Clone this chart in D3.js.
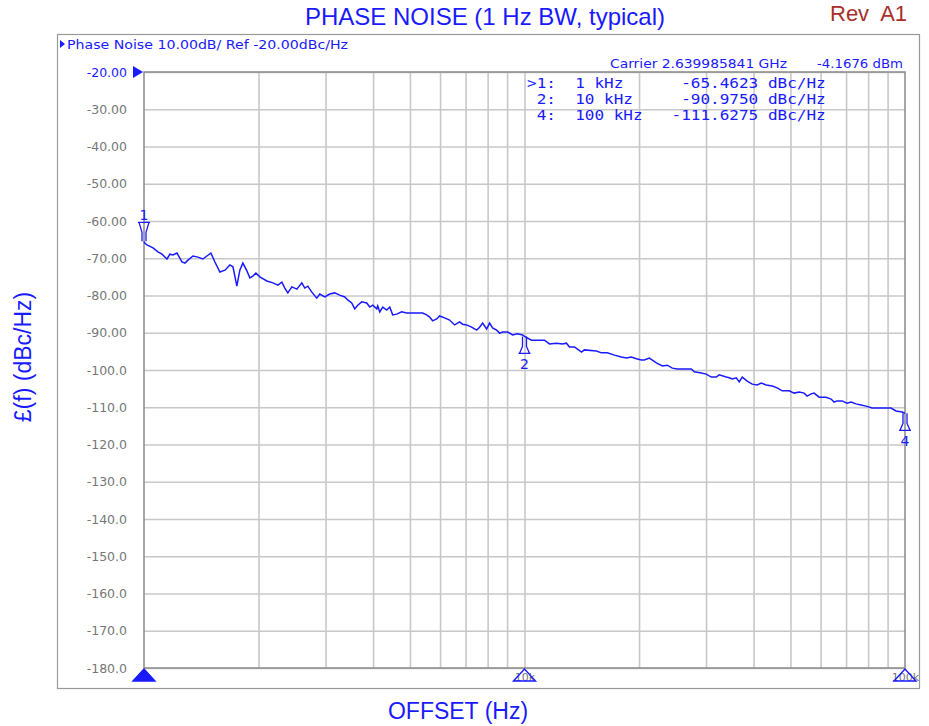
<!DOCTYPE html>
<html>
<head>
<meta charset="utf-8">
<script src="https://cdn.jsdelivr.net/npm/d3@7"></script>
<style>
body { margin: 0; background: #fff; }
svg text { white-space: pre; }
</style>
</head>
<body>
<div id="chart"></div>
<script>
// trace (offset in kHz, dBc/Hz)
const offsetKHz = [
  1.000, 1.006, 1.018, 1.056, 1.088, 1.115, 1.149, 1.170, 1.191, 1.221,
  1.258, 1.281, 1.305, 1.345, 1.386, 1.428, 1.463, 1.499, 1.536, 1.583,
  1.632, 1.682, 1.713, 1.754, 1.786, 1.819, 1.864, 1.898, 1.932, 1.968,
  2.016, 2.103, 2.181, 2.248, 2.303, 2.345, 2.388, 2.447, 2.522, 2.599,
  2.646, 2.695, 2.761, 2.845, 2.897, 2.986, 3.077, 3.172, 3.268, 3.370,
  3.431, 3.515, 3.579, 3.645, 3.735, 3.849, 3.920, 3.992, 4.090, 4.114,
  4.165, 4.241, 4.344, 4.424, 4.504, 4.614, 4.756, 4.902, 5.052, 5.239,
  5.400, 5.532, 5.633, 5.736, 5.876, 5.983, 6.166, 6.356, 6.551, 6.752,
  6.876, 7.045, 7.261, 7.484, 7.621, 7.761, 7.951, 8.097, 8.245, 8.447,
  8.601, 8.759, 9.028, 9.302, 9.586, 9.880, 10.00, 10.43, 11.29, 11.63,
  12.13, 12.58, 12.89, 13.13, 13.53, 13.78, 14.12, 14.37, 15.45, 15.93,
  16.51, 17.23, 17.97, 18.53, 19.09, 19.68, 20.28, 20.65, 21.29, 22.21,
  23.03, 23.73, 24.46, 25.21, 27.44, 27.94, 29.15, 30.04, 30.96, 31.91,
  32.49, 33.90, 34.52, 35.16, 36.02, 36.67, 37.34, 38.49, 39.67, 40.89,
  41.89, 43.18, 44.77, 46.14, 47.55, 49.61, 51.13, 52.71, 54.32, 55.32,
  56.67, 57.70, 59.47, 62.04, 63.94, 65.11, 66.31, 68.35, 70.45, 72.17,
  74.35, 76.64, 79.00, 81.92, 85.45, 91.89, 94.71, 98.20, 100.0
];
const noiseDbc = [
  -65.5, -66.0, -66.4, -67.2, -68.3, -68.9, -70.2, -68.9, -69.1, -68.6,
  -71.0, -71.3, -70.5, -69.4, -69.7, -70.2, -69.4, -68.6, -71.0, -73.7,
  -73.2, -71.8, -72.3, -77.5, -73.2, -71.3, -73.4, -75.3, -74.8, -74.0,
  -75.0, -76.1, -76.6, -77.2, -76.4, -78.0, -79.3, -77.7, -78.3, -76.6,
  -78.0, -77.5, -79.1, -80.7, -79.6, -80.4, -79.6, -79.3, -79.9, -80.4,
  -81.2, -82.0, -83.6, -82.6, -81.7, -82.0, -83.1, -82.6, -83.6, -82.8,
  -84.4, -83.1, -83.9, -83.1, -85.2, -85.0, -84.4, -84.7, -84.7, -84.7,
  -84.7, -85.2, -85.8, -86.8, -86.3, -85.5, -86.0, -86.6, -87.9, -87.1,
  -87.7, -87.9, -88.5, -89.3, -88.5, -87.4, -89.0, -87.4, -88.7, -89.3,
  -90.1, -89.8, -89.8, -90.6, -90.3, -90.6, -91.0, -92.0, -92.0, -93.0,
  -92.8, -93.0, -92.8, -93.8, -93.8, -94.4, -95.2, -94.6, -94.9, -95.4,
  -95.4, -96.0, -96.5, -96.8, -96.5, -97.0, -97.3, -97.3, -96.8, -98.1,
  -98.9, -98.7, -99.5, -99.7, -99.7, -100.5, -100.8, -101.1, -101.9, -101.9,
  -101.3, -101.9, -102.1, -102.4, -102.1, -103.2, -101.9, -103.0, -103.8, -104.0,
  -103.5, -104.0, -104.3, -104.8, -105.6, -105.6, -106.2, -105.9, -106.2, -107.0,
  -106.4, -106.2, -107.3, -107.3, -107.8, -108.6, -108.3, -108.3, -108.9, -108.6,
  -109.1, -109.4, -109.7, -110.2, -110.2, -110.2, -111.0, -111.3, -111.6
];

const yTicks = [-20, -30, -40, -50, -60, -70, -80, -90, -100, -110, -120, -130, -140, -150, -160, -170, -180];
const yTickLabels = ["-20.00", "-30.00", "-40.00", "-50.00", "-60.00", "-70.00", "-80.00", "-90.00",
  "-100.0", "-110.0", "-120.0", "-130.0", "-140.0", "-150.0", "-160.0", "-170.0", "-180.0"];
const xTicks = [1, 10, 100];
const xTickLabels = ["1k", "10k", "100k"];
const xGrid = [2, 3, 4, 5, 6, 7, 8, 9, 10, 20, 30, 40, 50, 60, 70, 80, 90];

// markers
const markerIds = ["1", "2", "4"];
const markerKHz = [1, 10, 100];
const markerDbc = [-65.4623, -90.9750, -111.6275];
const markerRowTags = [">1:", " 2:", " 4:"];
const markerFreqLabels = ["1 kHz", "10 kHz", "100 kHz"];
const markerValueLabels = ["-65.4623", "-90.9750", "-111.6275"];

const blue = "#1a1aff";
const gray = "#777";

const W = 929, H = 726;
const plot = { left: 144, right: 905, top: 72, bottom: 668 };

const svg = d3.select("#chart").append("svg")
    .attr("width", W)
    .attr("height", H);

const x = d3.scaleLog().domain([1, 100]).range([plot.left, plot.right]);
const y = d3.scaleLinear().domain([-180, -20]).range([plot.bottom, plot.top]);

// outer frame of the analyzer window
svg.append("rect")
    .attr("x", 57.5).attr("y", 34.5)
    .attr("width", 862).attr("height", 654)
    .attr("fill", "none")
    .attr("stroke", "#999")
    .attr("stroke-width", 1.2);

// grid
svg.append("g")
    .attr("transform", `translate(0,${plot.bottom})`)
    .call(d3.axisBottom(x).tickValues(xGrid).tickSize(-(plot.bottom - plot.top)).tickFormat(""))
    .call(g => g.select(".domain").remove())
    .call(g => g.selectAll("line").attr("stroke", "#c8c8c8").attr("stroke-width", 1.6));

svg.append("g")
    .attr("transform", `translate(${plot.left},0)`)
    .call(d3.axisLeft(y).tickValues(yTicks).tickSize(-(plot.right - plot.left)).tickFormat(""))
    .call(g => g.select(".domain").remove())
    .call(g => g.selectAll("line").attr("stroke", "#c8c8c8").attr("stroke-width", 1.6));

// plot border
svg.append("rect")
    .attr("x", plot.left).attr("y", plot.top)
    .attr("width", plot.right - plot.left).attr("height", plot.bottom - plot.top)
    .attr("fill", "none")
    .attr("stroke", "#8a8a8a")
    .attr("stroke-width", 1.5);

// y tick labels
svg.append("g")
    .attr("transform", `translate(${plot.left},0)`)
    .call(d3.axisLeft(y).tickValues(yTicks).tickSize(0).tickPadding(17)
        .tickFormat(d => yTickLabels[yTicks.indexOf(d)]))
    .call(g => g.select(".domain").remove())
    .attr("font-family", "DejaVu Sans")
    .attr("font-size", 12.5)
    .call(g => g.selectAll("text").attr("fill", d => d === -20 ? blue : gray));

// reference level arrow
svg.append("path")
    .attr("d", `M${plot.left - 11},${y(-20) - 6}L${plot.left - 1},${y(-20)}L${plot.left - 11},${y(-20) + 6}Z`)
    .attr("fill", blue);

// x tick labels
svg.append("g")
    .attr("transform", `translate(0,${plot.bottom})`)
    .call(d3.axisBottom(x).tickValues(xTicks).tickSize(0).tickPadding(5)
        .tickFormat(d => xTickLabels[xTicks.indexOf(d)]))
    .call(g => g.select(".domain").remove())
    .attr("font-family", "DejaVu Sans")
    .attr("font-size", 11)
    .call(g => g.selectAll("text").attr("fill", gray));

// marker flags on the x axis
svg.selectAll(".xflag")
    .data(markerKHz)
    .enter()
    .append("path")
    .attr("class", "xflag")
    .attr("d", d => `M${x(d) - 11},681L${x(d)},669L${x(d) + 11},681Z`)
    .attr("fill", (d, i) => i === 0 ? blue : "none")
    .attr("stroke", blue)
    .attr("stroke-width", 1.4);

// trace
const line = d3.line()
    .x(d => x(d[0]))
    .y(d => y(d[1]));

svg.append("path")
    .datum(d3.zip(offsetKHz, noiseDbc))
    .attr("d", line)
    .attr("fill", "none")
    .attr("stroke", blue)
    .attr("stroke-width", 1.5);

// marker symbols on the trace
const marks = svg.selectAll(".mark")
    .data(markerIds)
    .enter()
    .append("g")
    .attr("class", "mark")
    .attr("transform", (d, i) => `translate(${x(markerKHz[i])},${y(markerDbc[i])})`);

marks.append("path")
    .attr("d", (d, i) => i === 0
        ? "M-2,0V-9L-5,-19H5L2,-9V0M-6,-19H6"
        : "M-2,0V10L-5,17H5L2,10V0M-6,17H6")
    .attr("fill", "none")
    .attr("stroke", blue)
    .attr("stroke-width", 1.3);

marks.append("text")
    .attr("y", (d, i) => i === 0 ? -21 : 33)
    .attr("text-anchor", "middle")
    .attr("font-family", "DejaVu Sans")
    .attr("font-size", 14)
    .attr("fill", blue)
    .text(d => d);

// header texts of the analyzer screen
svg.append("path").attr("d", "M60,40L65,44L60,48Z").attr("fill", blue);
svg.append("text")
    .attr("x", 67).attr("y", 49)
    .attr("font-family", "DejaVu Sans").attr("font-size", 12)
    .attr("textLength", 281).attr("lengthAdjust", "spacingAndGlyphs")
    .attr("fill", blue)
    .text("Phase Noise 10.00dB/ Ref -20.00dBc/Hz");

svg.append("text")
    .attr("x", 610).attr("y", 68)
    .attr("font-family", "DejaVu Sans").attr("font-size", 12)
    .attr("textLength", 177).attr("lengthAdjust", "spacingAndGlyphs")
    .attr("fill", blue)
    .text("Carrier 2.639985841 GHz");
svg.append("text")
    .attr("x", 817).attr("y", 68)
    .attr("font-family", "DejaVu Sans").attr("font-size", 12)
    .attr("textLength", 86).attr("lengthAdjust", "spacingAndGlyphs")
    .attr("fill", blue)
    .text("-4.1676 dBm");

// marker table, fixed columns
const rowText = markerIds.map((d, i) =>
    markerRowTags[i] + "  " +
    markerFreqLabels[i].padEnd(19 - markerValueLabels[i].length) +
    markerValueLabels[i] + " dBc/Hz");

svg.selectAll(".row")
    .data(rowText)
    .enter()
    .append("text")
    .attr("class", "row")
    .attr("x", 527)
    .attr("y", (d, i) => 88 + i * 16)
    .attr("font-family", "DejaVu Sans Mono")
    .attr("font-size", 13.5)
    .attr("textLength", d => d.length * 9.7 - 2)
    .attr("lengthAdjust", "spacingAndGlyphs")
    .attr("fill", blue)
    .text(d => d);

// titles
svg.append("text")
    .attr("x", 485).attr("y", 25)
    .attr("text-anchor", "middle")
    .attr("font-family", "Liberation Sans").attr("font-size", 24)
    .attr("fill", blue)
    .text("PHASE NOISE (1 Hz BW, typical)");

svg.append("text")
    .attr("x", 830).attr("y", 21)
    .attr("font-family", "Liberation Sans").attr("font-size", 22)
    .attr("fill", "#a8302a")
    .text("Rev  A1");

svg.append("text")
    .attr("x", 458).attr("y", 719)
    .attr("text-anchor", "middle")
    .attr("font-family", "Liberation Sans").attr("font-size", 23)
    .attr("fill", blue)
    .text("OFFSET (Hz)");

svg.append("text")
    .attr("transform", "translate(31,357) rotate(-90)")
    .attr("text-anchor", "middle")
    .attr("font-family", "Liberation Sans").attr("font-size", 23)
    .attr("fill", blue)
    .text("£(f) (dBc/Hz)");
</script>
</body>
</html>
